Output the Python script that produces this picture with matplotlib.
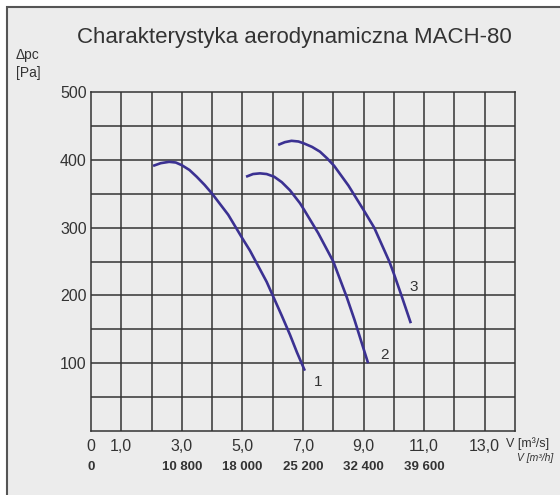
import matplotlib
matplotlib.use("Agg")
import matplotlib.pyplot as plt
from matplotlib.patches import Rectangle

plt.rcParams['font.family'] = ['Liberation Sans', 'DejaVu Sans']

# flow V [m3/s] and pressure dpc [Pa]
c1_x = [2.05, 2.3, 2.58, 2.8, 3.0, 3.25, 3.49, 3.75, 4.0, 4.53, 5.0, 5.25, 5.8, 6.02, 6.3, 6.57, 6.8, 7.06]
c1_y = [391, 395, 397, 396, 392, 385, 375, 363, 350, 319, 284, 266, 220, 198, 170, 142, 116, 89]
c2_x = [5.12, 5.35, 5.58, 5.8, 6.05, 6.3, 6.57, 6.9, 7.04, 7.5, 8.0, 8.44, 8.7, 8.91, 9.15]
c2_y = [375, 379, 380, 379, 375, 367, 355, 336, 326, 292, 250, 198, 164, 134, 100]
c3_x = [6.18, 6.4, 6.62, 6.85, 7.04, 7.3, 7.56, 7.8, 8.03, 8.5, 9.0, 9.35, 9.85, 10.0, 10.25, 10.56]
c3_y = [422, 426, 428, 427, 424, 419, 412, 402, 391, 362, 326, 300, 250, 232, 200, 159]
curves = [(c1_x, c1_y, "1"), (c2_x, c2_y, "2"), (c3_x, c3_y, "3")]

x_ticks = [0, 1, 3, 5, 7, 9, 11, 13]
x_labels = ["0", "1,0", "3,0", "5,0", "7,0", "9,0", "11,0", "13,0"]
y_ticks = [100, 200, 300, 400, 500]
h_ticks = [0, 3, 5, 7, 9, 11]
h_labels = ["0", "10 800", "18 000", "25 200", "32 400", "39 600"]

bg = '#ececec'
ink = '#333333'
blue = '#3b3192'

W, H = 560, 495
fig = plt.figure(figsize=(W / 100, H / 100), dpi=100, facecolor='white')
fig.patches.append(Rectangle((7 / W, -0.05), 1.1, 1 - 7 / H + 0.05,
                             transform=fig.transFigure, facecolor=bg,
                             edgecolor='#555555', linewidth=1.5, zorder=-5))

ax = fig.add_axes([91 / W, 64 / H, 424 / W, 339 / H])
ax.set_facecolor(bg)
ax.set_xlim(0, 14)
ax.set_ylim(0, 500)
for gx in range(1, 14):
    ax.axvline(gx, color=ink, linewidth=1.1, zorder=1)
for gy in range(50, 500, 50):
    ax.axhline(gy, color=ink, linewidth=1.1, zorder=1)
ax.set_xticks(x_ticks, x_labels)
ax.set_yticks(y_ticks, [str(v) for v in y_ticks])
ax.tick_params(length=0)
ax.tick_params(axis='x', pad=6, labelsize=11.5, labelcolor=ink)
ax.tick_params(axis='y', pad=3, labelsize=11.5, labelcolor=ink)
for s in ax.spines.values():
    s.set_color(ink)
    s.set_linewidth(1.1)

# label offsets from the end of each curve
label_off = [(0.45, -16), (0.55, 12), (0.08, 54)]
for (xs, ys, name), (dx, dy) in zip(curves, label_off):
    ax.plot(xs, ys, color=blue, linewidth=1.9, solid_capstyle='butt', zorder=3)
    ax.text(xs[-1] + dx, ys[-1] + dy, name, fontsize=11, color=ink,
            ha='center', va='center')

for v, lab in zip(h_ticks, h_labels):
    ax.text(v, -0.105, lab, transform=ax.get_xaxis_transform(), fontsize=9.5,
            fontweight='bold', color=ink, ha='center', va='center')

fig.text(294 / W, 1 - 38 / H, "Charakterystyka aerodynamiczna MACH-80",
         fontsize=16, color=ink, ha='center', va='center')
fig.text(16 / W, 1 - 55 / H, "\u0394pc", fontsize=10, color=ink, va='center')
fig.text(16 / W, 1 - 73 / H, "[Pa]", fontsize=10, color=ink, va='center')
fig.text(506 / W, 1 - 444 / H, "V [m\u00b3/s]", fontsize=9, color=ink, va='center')
fig.text(553 / W, 1 - 458 / H, "V [m\u00b3/h]", fontsize=7.5, style='italic',
         color=ink, va='center', ha='right')

fig.savefig("out.png", dpi=100, facecolor='white')
